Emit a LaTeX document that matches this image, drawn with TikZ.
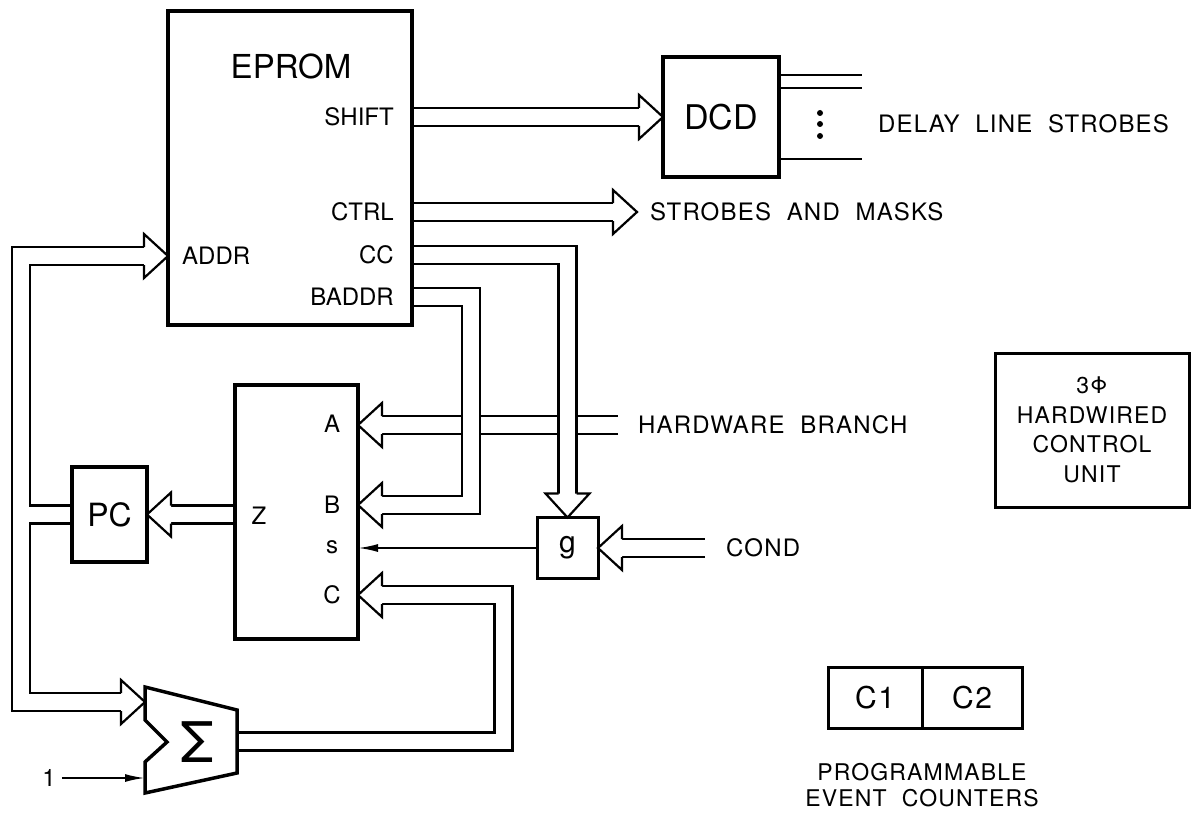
\documentclass[tikz,border=0pt]{standalone}
\usepackage{fontspec}
\setmainfont{TeX Gyre Heros}
\newfontfamily\plotfont[LetterSpace=5]{TeX Gyre Heros}
\usetikzlibrary{arrows.meta, positioning, calc, backgrounds}
\newcommand{\fsz}[1]{\fontsize{#1}{#1}\selectfont}
\tikzset{
    box/.style={rectangle, draw, line width=3.5pt, inner sep=0pt, outer sep=0pt},
    port/.style={font=\fsz{24}, inner sep=0pt},
    tag/.style={font=\plotfont\fsz{24}, inner sep=0pt},
    bus/.style={line width=2.2pt, double=white, double distance=15.8pt},
    wire/.style={line width=2pt, -{Latex[length=20pt, width=8pt]}},
    bushead/.pic={
        \fill[white] (-24,-22) -- (0,0) -- (-24,22) -- cycle;
        \draw[line width=2.2pt] (-24,-9) -- (-24,-22) -- (0,0) -- (-24,22) -- (-24,9);
    },
}

\begin{document}
\begin{tikzpicture}[x=1pt, y=-1pt]
    \useasboundingbox (0,0) rectangle (1198,813);

    % EPROM
    \node[box, minimum width=244pt, minimum height=314pt] (eprom) at (290,168) {};
    \node[font=\fsz{33}, inner sep=0pt] (epromlbl) at (291,66) {EPROM};
    \node[port, anchor=east] (shift) at (394,117) {SHIFT};
    \node[port, anchor=east] (ctrl) at (394,212) {CTRL};
    \node[port, anchor=east] (cc) at (394,255) {CC};
    \node[port, anchor=east] (baddr) at (394,297) {BADDR};
    \node[port, anchor=west] (addr) at (182,256) {ADDR};

    % Decoder
    \node[box, minimum width=116pt, minimum height=120pt, font=\fsz{34}] (dcd) at (721,117) {DCD};
    \foreach \y in {113,124,136} \fill (820,\y) circle (3pt);
    \coordinate (dl1) at (862,75);
    \coordinate (dl2) at (862,88);
    \coordinate (dl3) at (862,159);
    \node[tag, anchor=west] (delay) at (878,124) {DELAY\ \ LINE\ \ STROBES};
    \node[tag, anchor=west] (masks) at (650,212) {STROBES\ \ AND\ \ MASKS};
    \coordinate (ctrltip) at ([xshift=-13pt]masks.west);

    % Selector
    \node[box, minimum width=123pt, minimum height=254pt] (mux) at (296.5,512) {};
    \node[port] (alab) at (332,424) {A};
    \node[port] (blab) at (332,505) {B};
    \node[port] (slab) at (332,547) {s};
    \node[port] (clab) at (332,595) {C};
    \node[port] (zlab) at (259,516) {Z};

    % PC and condition
    \node[box, minimum width=75pt, minimum height=95pt, font=\fsz{32}] (pc) at (109.5,514.5) {PC};
    \node[box, line width=3pt, minimum width=61pt, minimum height=61pt, font=\fsz{30}] (g) at (567.5,548) {g};
    \node[tag, anchor=west] (hwb) at (638,425) {HARDWARE\ \ BRANCH};
    \node[tag, anchor=west] (cond) at (726,548) {COND};
    \coordinate (hbend) at ([xshift=-20pt]hwb.west);
    \coordinate (condstart) at ([xshift=-21pt]cond.west);

    % Adder
    \coordinate (sumin) at (145,702);
    \coordinate (sumone) at (145,778);
    \coordinate (sumout) at (237,741.5);
    \draw[line width=3.5pt, line join=miter] (145,687) -- (237,710) -- (237,773) -- (145,793) -- (145,762) -- (167,742) -- (145,720) -- cycle;
    \node[font=\fsz{56}, inner sep=0pt] (sigma) at (197,742) {Σ};
    \node[port, inner sep=6pt] (one) at (49,778) {1};

    % Other units
    \node[box, line width=3pt, minimum width=194pt, minimum height=154pt, align=center, font=\plotfont\fontsize{23}{29.5}\selectfont] (hcu) at (1092,430) {3Φ\\HARDWIRED\\CONTROL\\UNIT};
    \node[box, line width=3pt, minimum width=94pt, minimum height=61pt, font=\plotfont\fsz{30}] (c1) at (875,697.5) {C1};
    \node[box, line width=3pt, minimum width=100pt, minimum height=61pt, font=\plotfont\fsz{30}, right=0pt of c1] (c2) {C2};
    \node[tag, align=center, below=35pt of c1.south east, font=\plotfont\fontsize{23}{26}\selectfont] (pec) {PROGRAMMABLE\\EVENT\ \ COUNTERS};

    % Buses
    \coordinate (bcol) at (471,0);
    \coordinate (lcol) at (21,0);
    \coordinate (ccol) at (503.5,0);
    \coordinate (addrbase) at ($(eprom.west |- addr)+(-24,0)$);
    \coordinate (sumbase) at ($(sumin)+(-24,0)$);
    \begin{scope}[on background layer]
        \draw[bus, shorten >=24pt] (hbend) -- (mux.east |- hbend);
        \draw[bus, shorten >=24pt] (eprom.east |- shift) -- (dcd.west |- shift);
        \draw[bus, shorten >=24pt] (eprom.east |- ctrl) -- (ctrltip);
        \draw[bus, shorten >=24pt] (eprom.east |- cc) -| (g.north);
        \draw[bus, shorten >=24pt] (eprom.east |- baddr) -| (bcol |- blab) -- (mux.east |- blab);
        \draw[bus, shorten >=24pt] (mux.west |- pc) -- (pc.east);
        \draw[bus] (addrbase) -| (lcol |- pc) (pc.west) -| (lcol |- sumin) -- (sumbase);
        \draw[bus, shorten >=24pt] (sumout) -| (ccol |- clab) -- (mux.east |- clab);
        \draw[bus, shorten >=24pt] (condstart) -- (g.east |- condstart);

        \pic at (dcd.west |- shift) {bushead};
        \pic at (ctrltip) {bushead};
        \pic[rotate=-90] at (g.north) {bushead};
        \pic[rotate=180] at (mux.east |- blab) {bushead};
        \pic[rotate=180] at (mux.east |- hbend) {bushead};
        \pic[rotate=180] at (pc.east) {bushead};
        \pic at (eprom.west |- addr) {bushead};
        \pic at (sumin) {bushead};
        \pic[rotate=180] at (mux.east |- clab) {bushead};
        \pic[rotate=180] at (g.east |- condstart) {bushead};
    \end{scope}

    % Single lines
    \draw[wire] (g.west) -- (mux.east |- g.west);
    \draw[wire] (one) -- (sumone);
    \foreach \c in {dl1,dl2,dl3} \draw[line width=2pt] (dcd.east |- \c) -- (\c);
\end{tikzpicture}
\end{document}
